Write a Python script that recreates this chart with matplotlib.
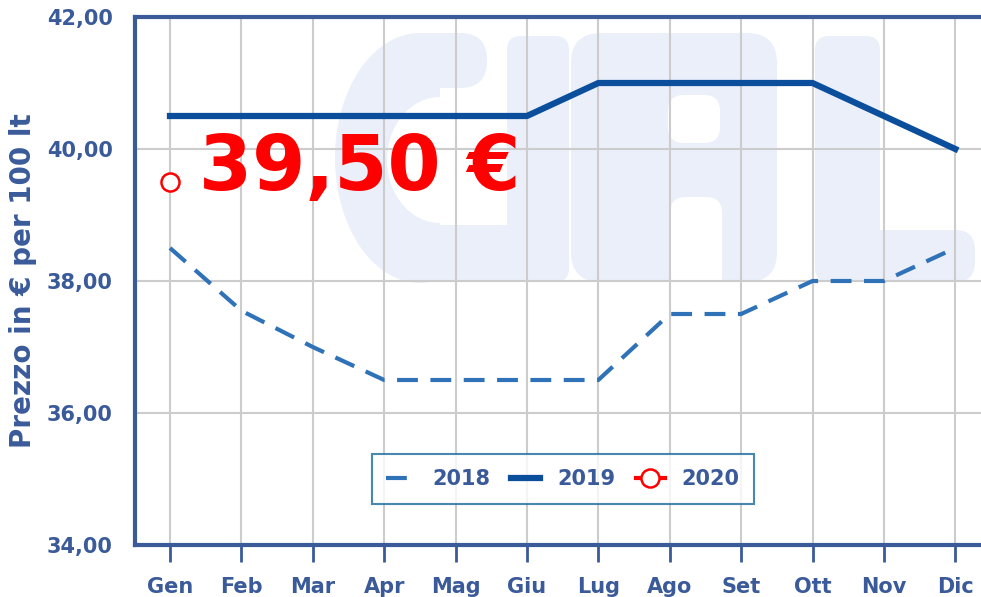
import matplotlib.pyplot as plt
import matplotlib.transforms as mtransforms
from matplotlib.patches import FancyBboxPatch, Ellipse

# dati
mesi = ['Gen', 'Feb', 'Mar', 'Apr', 'Mag', 'Giu', 'Lug', 'Ago', 'Set', 'Ott', 'Nov', 'Dic']
prezzi_2018 = [38.5, 37.55, 37.0, 36.5, 36.5, 36.5, 36.5, 37.5, 37.5, 38.0, 38.0, 38.5]
prezzi_2019 = [40.5, 40.5, 40.5, 40.5, 40.5, 40.5, 41.0, 41.0, 41.0, 41.0, 40.5, 40.0]
prezzi_2020 = [39.5]
yticks = [34, 36, 38, 40, 42]

blu_testo = '#3a5a9a'
blu_2018 = '#2f72b8'
blu_2019 = '#0b4f9c'
filigrana = '#eaeff9'

fig = plt.figure(figsize=(9.81, 5.97), dpi=100)
ax = fig.add_axes([135 / 981, 1 - 545 / 597, 1 - 135 / 981, 528 / 597])

# filigrana "CIAL" disegnata in pixel dell'immagine (y verso il basso)
T = mtransforms.Affine2D().scale(1 / 981, -1 / 597).translate(0, 1) + fig.transFigure


def blocco(x0, y0, x1, y1, r, col=filigrana):
    p = FancyBboxPatch((x0, y0), x1 - x0, y1 - y0,
                       boxstyle=f'round,pad=0,rounding_size={r}',
                       transform=T, fc=col, ec='none', zorder=0.2)
    ax.add_patch(p)


def ellisse(cx, cy, w, h, col=filigrana):
    ax.add_patch(Ellipse((cx, cy), w, h, transform=T, fc=col, ec='none', zorder=0.2))


# C
ellisse(420, 158, 170, 250)
ellisse(440, 160, 106, 126, 'white')
blocco(440, 30, 507, 225, 0, 'white')
blocco(400, 33, 487, 88, 27)
blocco(420, 225, 515, 282, 10)
# I
blocco(507, 36, 569, 282, 14)
# A
blocco(571, 33, 777, 282, 30)
blocco(668, 95, 720, 143, 16, 'white')
blocco(670, 197, 722, 300, 16, 'white')
# L
blocco(815, 36, 880, 282, 14)
blocco(815, 230, 975, 282, 20)

ax.plot(mesi, prezzi_2018, color=blu_2018, lw=3, ls=(0, (5, 3)),
        solid_joinstyle='round', dash_joinstyle='round', label='2018', zorder=3)
ax.plot(mesi, prezzi_2019, color=blu_2019, lw=4.5, label='2019', zorder=3)
ax.plot(mesi[:len(prezzi_2020)], prezzi_2020, color='red', lw=3, marker='o', ms=13,
        mfc='white', mec='red', mew=1.8, label='2020', zorder=4)

ax.text(0.4, 39.7, '39,50 €', color='red', fontsize=55, fontweight='bold',
        ha='left', va='center', zorder=5)

ax.set_xlim(-0.49, 11.36)
ax.set_ylim(34, 42)
ax.set_yticks(yticks)
ax.set_yticklabels([f'{v:.2f}'.replace('.', ',') for v in yticks])
ax.grid(True, color='#cccccc', lw=1.5, zorder=1)
ax.set_axisbelow(True)

for lab in ax.get_xticklabels() + ax.get_yticklabels():
    lab.set_fontweight('bold')
    lab.set_color(blu_testo)
    lab.set_fontsize(15)
ax.tick_params(axis='x', length=12, width=2, color=blu_testo, pad=11)
ax.tick_params(axis='y', length=0, pad=16)

for s in ['left', 'bottom', 'top']:
    ax.spines[s].set_color(blu_testo)
    ax.spines[s].set_linewidth(3)
ax.spines['right'].set_visible(False)

ax.set_ylabel('Prezzo in € per 100 lt', fontsize=20, fontweight='bold',
              color=blu_testo, labelpad=7)

leg = ax.legend(loc='center', bbox_to_anchor=(0.506, 0.125), ncol=3,
                frameon=True, fancybox=False, handlelength=1.4,
                columnspacing=1.0, handletextpad=0.8, borderpad=0.7,
                prop={'weight': 'bold', 'size': 15})
leg.get_frame().set_edgecolor('#1a6a9a')
leg.get_frame().set_linewidth(1.5)
for t in leg.get_texts():
    t.set_color(blu_testo)

fig.savefig('out.png', dpi=100)
